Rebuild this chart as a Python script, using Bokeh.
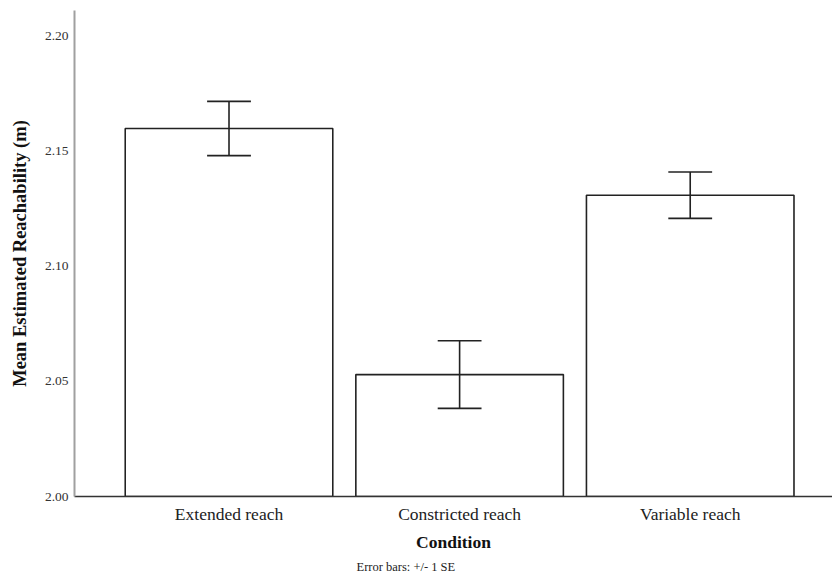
from bokeh.plotting import figure
from bokeh.models import ColumnDataSource, FixedTicker, Range1d, Title, NumeralTickFormatter
from bokeh.embed import file_html
from bokeh.resources import INLINE

categories = ["Extended reach", "Constricted reach", "Variable reach"]
means = [2.160, 2.053, 2.131]
se = [0.0118, 0.0147, 0.0101]
y_ticks = [2.00, 2.05, 2.10, 2.15, 2.20]
note_text = "Error bars: +/- 1 SE"

FONT = "Liberation Serif"
xs = list(range(len(categories)))
bar_w = 0.9
cap_half = 0.095

src = ColumnDataSource(dict(
    x=xs, top=means,
    lo=[m - s for m, s in zip(means, se)],
    hi=[m + s for m, s in zip(means, se)],
    cl=[x - cap_half for x in xs],
    cr=[x + cap_half for x in xs],
))

p = figure(width=832, height=576, output_backend="svg", toolbar_location=None,
           x_range=Range1d(-0.670, 2.617), y_range=Range1d(2.0, 2.2113),
           min_border_left=74, min_border_right=0, min_border_top=10, min_border_bottom=80)

p.vbar(x="x", top="top", bottom=2.0, width=bar_w, source=src,
       fill_color="white", line_color="#222222", line_width=1.6)
p.segment(x0="x", y0="lo", x1="x", y1="hi", source=src, line_color="#222222", line_width=1.6)
p.segment(x0="cl", y0="hi", x1="cr", y1="hi", source=src, line_color="#222222", line_width=1.6)
p.segment(x0="cl", y0="lo", x1="cr", y1="lo", source=src, line_color="#222222", line_width=1.6)

p.outline_line_color = None
p.xgrid.grid_line_color = None
p.ygrid.grid_line_color = None

xa = p.xaxis[0]
xa.ticker = FixedTicker(ticks=xs)
xa.major_label_overrides = {i: c for i, c in enumerate(categories)}
xa.major_tick_out = 0
xa.major_tick_in = 0
xa.minor_tick_out = 0
xa.minor_tick_in = 0
xa.major_label_standoff = 7
xa.major_label_text_font = FONT
xa.major_label_text_font_size = "17.5px"
xa.major_label_text_color = "#222222"
xa.axis_line_color = "#333333"
xa.axis_line_width = 1.6
xa.axis_label = "Condition"
xa.axis_label_text_font = FONT
xa.axis_label_text_font_style = "bold"
xa.axis_label_text_font_size = "17.5px"
xa.axis_label_text_color = "#111111"
xa.axis_label_standoff = 5

ya = p.yaxis[0]
ya.ticker = FixedTicker(ticks=y_ticks)
ya.formatter = NumeralTickFormatter(format="0.00")
ya.major_tick_out = 0
ya.major_tick_in = 0
ya.minor_tick_out = 0
ya.minor_tick_in = 0
ya.major_label_standoff = 6
ya.major_label_text_font = FONT
ya.major_label_text_font_size = "13.5px"
ya.major_label_text_color = "#333333"
ya.axis_line_color = "#a0a0a0"
ya.axis_line_width = 2
ya.axis_label = "Mean Estimated Reachability (m)"
ya.axis_label_text_font = FONT
ya.axis_label_text_font_style = "bold"
ya.axis_label_text_font_size = "18.5px"
ya.axis_label_text_color = "#111111"
ya.axis_label_standoff = 12

note = Title(text=note_text, align="left", offset=282, standoff=6,
             text_font=FONT, text_font_size="12.5px", text_font_style="normal",
             text_color="#222222")
p.add_layout(note, "below")

p.background_fill_color = "white"
p.border_fill_color = "white"

open("out.html", "w").write(file_html(p, INLINE))
